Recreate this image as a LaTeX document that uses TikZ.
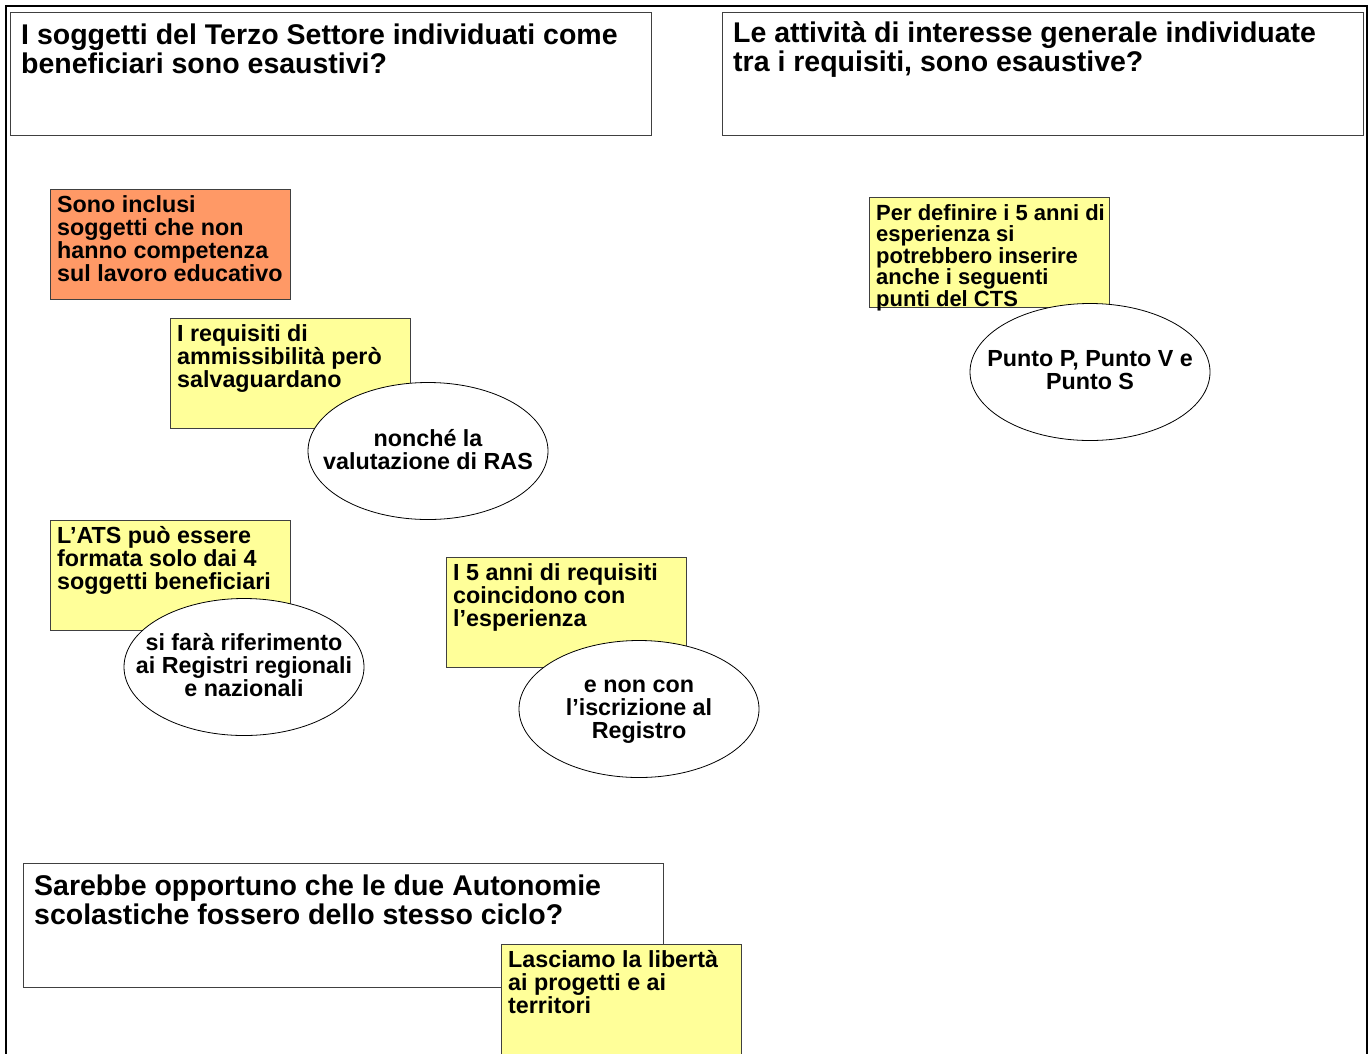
\documentclass[tikz,border=0pt]{standalone}
\usepackage{fontspec}
\setmainfont{Liberation Sans}
\usetikzlibrary{shapes.geometric}
\definecolor{postorange}{HTML}{FF9966}
\definecolor{postyellow}{HTML}{FFFF99}
\definecolor{boxline}{HTML}{404040}
\newcommand{\bigtxt}{\fontsize{28.5}{29}\selectfont\bfseries}
\newcommand{\smalltxt}{\fontsize{23.3}{23}\selectfont\bfseries}
\newcommand{\tinytxt}{\fontsize{22}{21.6}\selectfont\bfseries}
\newcommand{\stack}[1]{\vtop{\halign{##\hfil\cr#1\crcr}}}
\begin{document}
\begin{tikzpicture}[x=1pt,y=-1pt,
  titlebox/.style={draw=boxline, line width=1pt, fill=white, anchor=north west, inner sep=0pt, minimum width=641pt, minimum height=123pt},
  postbox/.style={draw=boxline, line width=0.8pt, anchor=north west, inner sep=0pt, minimum width=240pt, minimum height=110pt},
  yellowbox/.style={postbox, fill=postyellow},
  orangebox/.style={postbox, fill=postorange},
  bubble/.style={ellipse, draw=black, line width=0.8pt, fill=white, inner sep=0pt, minimum width=240pt, minimum height=137pt},
  leftlabel/.style={anchor=base west, inner sep=0pt},
  centerlabel/.style={align=center, inner sep=0pt, font=\smalltxt}
]
\useasboundingbox (0,0) rectangle (1370,1053);

% outer frame
\coordinate (fbl) at (6,1065);
\coordinate (ftl) at (6,6);
\coordinate (ftr) at (1367,6);
\coordinate (fbr) at (1367,1065);
\draw[line width=2pt] (fbl) -- (ftl) -- (ftr) -- (fbr);

% title boxes
\node[titlebox] (q1) at (10,12) {};
\node[leftlabel, font=\bigtxt] (q1t) at (21,44) {\stack{I soggetti del Terzo Settore individuati come\cr beneficiari sono esaustivi?}};
\node[titlebox] (q2) at (722,12) {};
\node[leftlabel, font=\bigtxt] (q2t) at (733,42) {\stack{Le attività di interesse generale individuate\cr tra i requisiti, sono esaustive?}};
\node[titlebox, minimum width=640pt, minimum height=124pt] (q3) at (23,863) {};
\node[leftlabel, font=\bigtxt] (q3t) at (34,895) {\stack{Sarebbe opportuno che le due Autonomie\cr scolastiche fossero dello stesso ciclo?}};

% orange note
\node[orangebox] (o1) at (50,189) {};
\node[leftlabel, font=\smalltxt] (o1t) at (57,212) {\stack{Sono inclusi\cr soggetti che non\cr hanno competenza\cr sul lavoro educativo}};

% yellow note 1 + bubble
\node[yellowbox] (y1) at (170,318) {};
\node[leftlabel, font=\smalltxt] (y1t) at (177,341) {\stack{I requisiti di\cr ammissibilità però\cr salvaguardano}};
\node[bubble] (e1) at (428,451) {};
\node[centerlabel] (e1t) at (428,450) {nonché la\\valutazione di RAS};

% yellow note 2 + bubble
\node[yellowbox] (y2) at (50,520) {};
\node[leftlabel, font=\smalltxt] (y2t) at (57,543) {\stack{L’ATS può essere\cr formata solo dai 4\cr soggetti beneficiari}};
\node[bubble] (e2) at (244,667) {};
\node[centerlabel] (e2t) at (244,665) {si farà riferimento\\ai Registri regionali\\e nazionali};

% yellow note 3 + bubble
\node[yellowbox] (y3) at (446,557) {};
\node[leftlabel, font=\smalltxt] (y3t) at (453,580) {\stack{I 5 anni di requisiti\cr coincidono con\cr l’esperienza}};
\node[bubble] (e3) at (639,709) {};
\node[centerlabel] (e3t) at (639,712) {e non con\\l’iscrizione al\\Registro};

% yellow note 4 + bubble
\node[yellowbox] (y4) at (869,197) {};
\node[bubble] (e4) at (1090,372) {};
\node[leftlabel, font=\tinytxt] (y4t) at (876,220) {\stack{Per definire i 5 anni di\cr esperienza si\cr potrebbero inserire\cr anche i seguenti\cr punti del CTS}};
\node[centerlabel] (e4t) at (1090,370) {Punto P, Punto V e\\Punto S};

% yellow note 5
\node[yellowbox, minimum height=130pt] (y5) at (501,944) {};
\node[leftlabel, font=\smalltxt] (y5t) at (508,967) {\stack{Lasciamo la libertà\cr ai progetti e ai\cr territori}};
\end{tikzpicture}
\end{document}
